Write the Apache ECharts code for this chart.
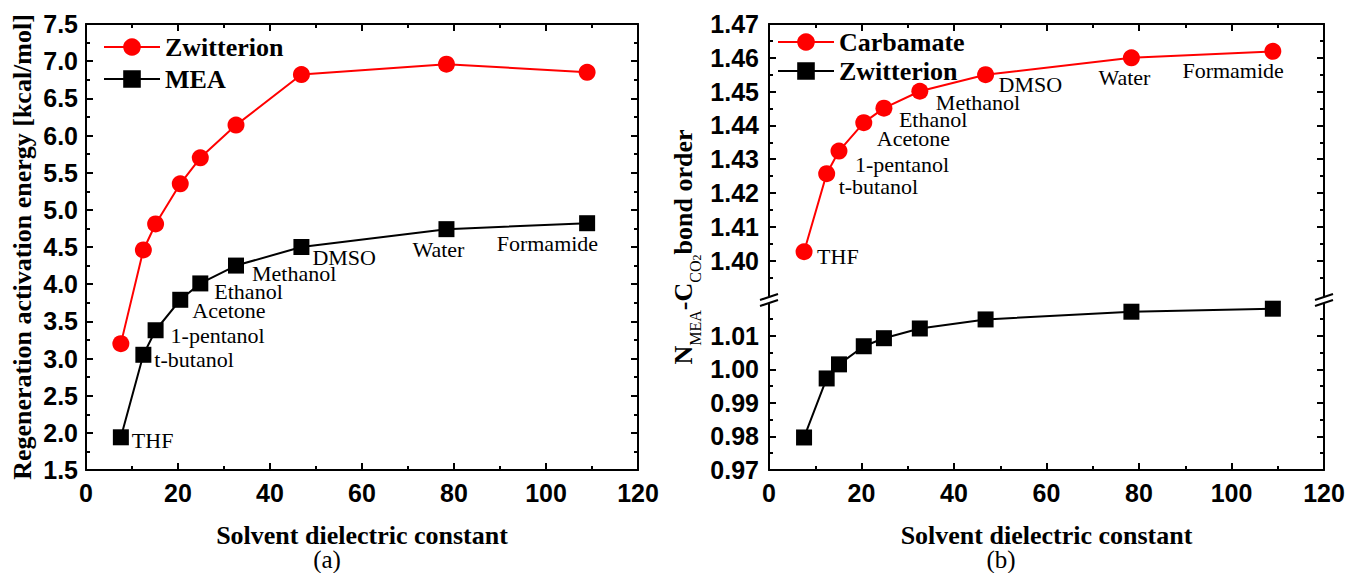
<!DOCTYPE html>
<html>
<head>
<meta charset="utf-8">
<script src="https://cdn.jsdelivr.net/npm/echarts@6/dist/echarts.min.js"></script>
<style>
html,body{margin:0;padding:0;background:#fff;}
#c{width:1346px;height:573px;}
</style>
</head>
<body>
<div id="c"></div>
<script>
// ---------------- data ----------------
const solvents = ['THF', 't-butanol', '1-pentanol', 'Acetone', 'Ethanol', 'Methanol', 'DMSO', 'Water', 'Formamide'];
const dielectric = [7.58, 12.47, 15.13, 20.49, 24.85, 32.61, 46.83, 78.36, 108.94];
// (a) regeneration activation energy [kcal/mol]
const zwitterionEnergy = [3.20, 4.46, 4.81, 5.35, 5.70, 6.14, 6.82, 6.96, 6.85];
const meaEnergy = [1.94, 3.05, 3.38, 3.79, 4.01, 4.25, 4.50, 4.74, 4.82];
// (b) N(MEA)-C(CO2) bond order
const carbamateBondOrder = [1.4026, 1.4257, 1.4324, 1.4408, 1.4451, 1.4501, 1.4550, 1.4600, 1.4619];
const zwitterionBondOrder = [0.9797, 0.9973, 1.0015, 1.0069, 1.0093, 1.0122, 1.0149, 1.0172, 1.0181];
// tick values of the broken axis in (b)
const upperTicks = [1.40, 1.41, 1.42, 1.43, 1.44, 1.45, 1.46, 1.47];
const upperMinorTicks = [1.395, 1.405, 1.415, 1.425, 1.435, 1.445, 1.455, 1.465];
const lowerTicks = [0.97, 0.98, 0.99, 1.00, 1.01];
const lowerMinorTicks = [0.975, 0.985, 0.995, 1.005, 1.015];

// ---------------- styling / layout ----------------
// label placement: [dx, dy, align] relative to the marker centre
const labelPlaceA = [[11,3,'left'],[11,5,'left'],[15,5,'left'],[12,11,'left'],[14,8,'left'],[16,8,'left'],[11,10,'left'],[-8,20,'center'],[11,20,'right']];
const labelPlaceB = [[13,5,'left'],[12,13,'left'],[16,13,'left'],[13,16,'left'],[15,11,'left'],[16,11,'left'],[13,10,'left'],[-7,20,'center'],[11,19,'right']];

const SANS = '"Liberation Sans", Arial, sans-serif';
const SERIF = '"Liberation Serif", "Times New Roman", serif';
const black = {color: '#000', width: 2};
const tickLabel = {color: '#000', fontFamily: SANS, fontWeight: 'bold', fontSize: 25};
const titleStyle = {color: '#000', fontFamily: SERIF, fontWeight: 'bold', fontSize: 26};
const solventLabel = {color: '#000', fontFamily: SERIF, fontSize: 22};

const GA = {left: 86, top: 24, width: 552, height: 446};
const GB_UP = {left: 769, top: 24, width: 555, height: 272};
const GB_LO = {left: 769, top: 304, width: 555, height: 166};

function xAxis(grid, pos, withLabel) {
  const a = {
    gridIndex: grid, type: 'value', min: 0, max: 120, interval: 20, position: pos,
    axisLine: {show: true, onZero: false, lineStyle: black},
    axisTick: {show: true, inside: true, length: 7, lineStyle: black},
    minorTick: {show: true, splitNumber: 2, length: 4, lineStyle: black},
    axisLabel: withLabel ? Object.assign({margin: 10}, tickLabel) : {show: false},
    splitLine: {show: false}
  };
  if (withLabel) {
    a.name = 'Solvent dielectric constant';
    a.nameLocation = 'middle';
    a.nameGap = 52;
    a.nameTextStyle = titleStyle;
  }
  return a;
}
function brokenY(grid, pos, min, max, ticks, minor, withLabel) {
  return [{
    gridIndex: grid, type: 'value', min: min, max: max, position: pos,
    axisLine: {show: true, onZero: false, lineStyle: black},
    axisTick: {show: true, inside: true, length: 7, lineStyle: black, customValues: ticks},
    axisLabel: withLabel ? Object.assign({margin: 10, customValues: ticks, formatter: v => v.toFixed(2)}, tickLabel) : {show: false},
    splitLine: {show: false}
  }, {
    gridIndex: grid, type: 'value', min: min, max: max, position: pos,
    axisLine: {show: false, onZero: false},
    axisTick: {show: true, inside: true, length: 4, lineStyle: black, customValues: minor},
    axisLabel: {show: false},
    splitLine: {show: false}
  }];
}
function energyY(pos, withLabel) {
  const a = {
    gridIndex: 0, type: 'value', min: 1.5, max: 7.5, interval: 0.5, position: pos,
    axisLine: {show: true, onZero: false, lineStyle: black},
    axisTick: {show: true, inside: true, length: 7, lineStyle: black},
    minorTick: {show: true, splitNumber: 2, length: 4, lineStyle: black},
    axisLabel: withLabel ? Object.assign({margin: 8, formatter: v => v.toFixed(1)}, tickLabel) : {show: false},
    splitLine: {show: false}
  };
  if (withLabel) {
    a.name = 'Regeneration activation energy [kcal/mol]';
    a.nameLocation = 'middle';
    a.nameGap = 51;
    a.nameTextStyle = titleStyle;
  }
  return a;
}
function points(values, names, place, size) {
  return dielectric.map((x, i) => {
    const item = {value: [x, values[i]]};
    if (names) {
      const p = place[i];
      item.name = names[i];
      item.label = {
        show: true, formatter: '{b}',
        position: [size / 2 + p[0], size / 2 + p[1]],
        align: p[2], verticalAlign: 'middle'
      };
    }
    return item;
  });
}
function lineSeries(name, xi, yi, values, color, symbol, size, names, place) {
  return {
    name: name, type: 'line', xAxisIndex: xi, yAxisIndex: yi,
    data: points(values, names, place, size),
    symbol: symbol, symbolSize: size,
    lineStyle: {color: color, width: 2},
    itemStyle: {color: color, borderWidth: 0},
    label: Object.assign({show: false}, solventLabel),
    emphasis: {disabled: true},
    clip: false, z: 3
  };
}
function breakMarks(x) {
  return [
    {type: 'line', shape: {x1: x - 9, y1: 300, x2: x + 9, y2: 294}, style: {stroke: '#000', lineWidth: 2}, z: 10},
    {type: 'line', shape: {x1: x - 9, y1: 306, x2: x + 9, y2: 300}, style: {stroke: '#000', lineWidth: 2}, z: 10}
  ];
}
const legendText = {color: '#000', fontFamily: SERIF, fontWeight: 'bold', fontSize: 26};

const chart = echarts.init(document.getElementById('c'), null, {renderer: 'svg'});
chart.setOption({
  backgroundColor: '#fff',
  animation: false,
  grid: [
    Object.assign({outerBoundsMode: 'none'}, GA),
    Object.assign({outerBoundsMode: 'none'}, GB_UP),
    Object.assign({outerBoundsMode: 'none'}, GB_LO)
  ],
  legend: [{
    left: 103, top: 34, padding: 0, orient: 'vertical', itemWidth: 56, itemHeight: 22, itemGap: 6,
    selectedMode: false, data: ['Zwitterion', 'MEA'],
    textStyle: legendText
  }, {
    left: 777, top: 29, padding: 0, orient: 'vertical', itemWidth: 56, itemHeight: 22, itemGap: 3,
    selectedMode: false, data: ['Carbamate', 'Zwitterion (b)'],
    formatter: n => n.replace(' (b)', ''),
    textStyle: legendText
  }],
  xAxis: [xAxis(0, 'bottom', true), xAxis(0, 'top', false), xAxis(1, 'top', false), xAxis(2, 'bottom', true)],
  yAxis: [
    energyY('left', true), energyY('right', false)
  ].concat(
    brokenY(1, 'left', 1.3895, 1.47, upperTicks, upperMinorTicks, true),
    brokenY(1, 'right', 1.3895, 1.47, upperTicks, upperMinorTicks, false),
    brokenY(2, 'left', 0.97, 1.0195, lowerTicks, lowerMinorTicks, true),
    brokenY(2, 'right', 0.97, 1.0195, lowerTicks, lowerMinorTicks, false)
  ),
  series: [
    lineSeries('Zwitterion', 0, 0, zwitterionEnergy, '#ff0000', 'circle', 17),
    lineSeries('MEA', 0, 0, meaEnergy, '#000000', 'rect', 16, solvents, labelPlaceA),
    lineSeries('Carbamate', 2, 2, carbamateBondOrder, '#ff0000', 'circle', 17, solvents, labelPlaceB),
    lineSeries('Zwitterion (b)', 3, 6, zwitterionBondOrder, '#000000', 'rect', 16)
  ],
  graphic: [
    {type: 'text', x: 327, y: 559, style: {text: '(a)', align: 'center', verticalAlign: 'middle', fill: '#000', fontFamily: SERIF, fontSize: 25}},
    {type: 'text', x: 1001, y: 559, style: {text: '(b)', align: 'center', verticalAlign: 'middle', fill: '#000', fontFamily: SERIF, fontSize: 25}},
    {type: 'text', x: 683, y: 247, rotation: Math.PI / 2,
      style: {
        text: '{n|N}{s|MEA}{n|-C}{s|CO}{ss|2}{n|bond order}',
        align: 'center', verticalAlign: 'middle', fill: '#000',
        rich: {
          n: {fontFamily: SERIF, fontWeight: 'bold', fontSize: 26, lineHeight: 40, fill: '#000'},
          s: {fontFamily: SERIF, fontSize: 16, lineHeight: 24, verticalAlign: 'bottom', fill: '#000'},
          ss: {fontFamily: SERIF, fontSize: 12, lineHeight: 14, verticalAlign: 'bottom', fill: '#000'}
        }
      }}
  ].concat(breakMarks(769), breakMarks(1324))
});
</script>
</body>
</html>
